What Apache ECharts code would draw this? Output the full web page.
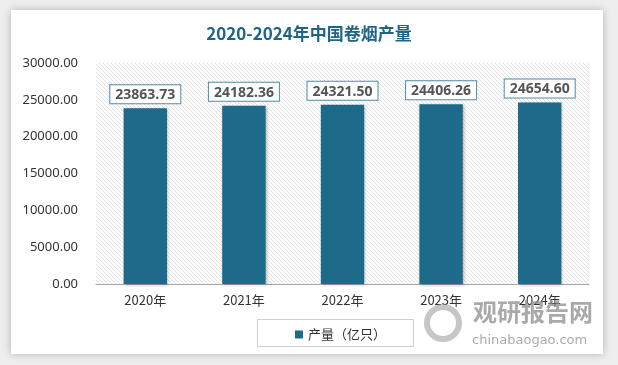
<!DOCTYPE html>
<html><head><meta charset="utf-8">
<script src="https://cdn.jsdelivr.net/npm/echarts@6/dist/echarts.min.js"></script>
<style>html,body{margin:0;padding:0;background:#eeeeee;}#c{width:618px;height:365px;}</style>
</head><body><div id="c"></div>
<script>
const categories = ['2020年','2021年','2022年','2023年','2024年'];
const values = [23863.73, 24182.36, 24321.50, 24406.26, 24654.60];
const seriesName = '产量（亿只）';
const titleText = '2020-2024年中国卷烟产量';

function hatch(){
  const n = 4;
  const cv = document.createElement('canvas');
  cv.width = n; cv.height = n;
  const ctx = cv.getContext('2d');
  ctx.fillStyle = '#ffffff'; ctx.fillRect(0,0,n,n);
  ctx.fillStyle = '#e2e2e2';
  for (let i = 0; i < n; i++) { ctx.fillRect(i, i, 1, 1); }
  return cv;
}

const chart = echarts.init(document.getElementById('c'), null, {renderer:'canvas'});
chart.setOption({
  backgroundColor: '#eeeeee',
  animation: false,
  title: {
    text: titleText, left: 'center', top: 20,
    textStyle: {color: '#1e6585', fontSize: 17, fontWeight: 'bold', fontFamily: '"Noto Sans CJK SC", sans-serif'}
  },
  graphic: [
    {type:'rect', z:-10, shape:{x:11,y:10,width:592,height:344}, style:{fill:'#ffffff', shadowBlur:8, shadowColor:'rgba(0,0,0,0.25)'}},
    {type:'text', left: 473, top: 300, z:5, style:{text:'观研报告网', fill:'rgba(140,140,140,0.75)', font:'bold 24px "Noto Sans CJK SC"'}},
    {type:'text', left: 472, top: 334, z:5, style:{text:'chinabaogao.com', fill:'rgba(150,150,150,0.8)', font:'13px "DejaVu Sans"'}},
    {type:'circle', z:5, shape:{cx:443,cy:323,r:16}, style:{fill:'none', stroke:'rgba(160,160,160,0.6)', lineWidth:6}},
    {type:'rect', left: 257, top: 319, z:1, shape:{width:156,height:27}, style:{fill:'#fff', stroke:'#d0d0d0', lineWidth:1}}
  ],
  legend: {
    data: [seriesName], left: 290, top: 323, itemWidth: 8, itemHeight: 8, icon: 'rect', itemGap: 6,
    textStyle: {color: '#333', fontSize: 13, fontFamily: '"Noto Sans CJK SC", sans-serif'}
  },
  grid: {left: 96, right: 29, top: 63, bottom: 81, show: true, borderWidth: 0,
    backgroundColor: {image: hatch(), repeat: 'repeat'}},
  xAxis: {
    type: 'category', data: categories,
    axisLine: {lineStyle: {color: '#a6a6a6'}}, axisTick: {show: false},
    axisLabel: {color: '#333', fontSize: 13, margin: 10, fontFamily: '"Noto Sans CJK SC", sans-serif'}
  },
  yAxis: {
    type: 'value', min: 0, max: 30000, interval: 5000,
    splitLine: {show: false}, axisLine: {show: false}, axisTick: {show: false},
    axisLabel: {color: '#333', fontSize: 13, margin: 18, fontFamily: '"Noto Sans", sans-serif', formatter: v => v.toFixed(2)}
  },
  series: [{
    name: seriesName, type: 'bar', data: values, barWidth: '44%',
    itemStyle: {color: '#1d6a8b', shadowBlur: 3, shadowColor: 'rgba(0,0,0,0.3)', shadowOffsetX: 1, shadowOffsetY: 1},
    label: {show: true, position: 'top', distance: 5, formatter: p => p.value.toFixed(2),
      color: '#555', fontSize: 14, fontWeight: 'bold', fontFamily: '"Noto Sans", sans-serif',
      backgroundColor: '#fff', borderColor: '#4e8ba6', borderWidth: 1, padding: [3, 5, 1, 5]}
  }]
});
</script></body></html>
